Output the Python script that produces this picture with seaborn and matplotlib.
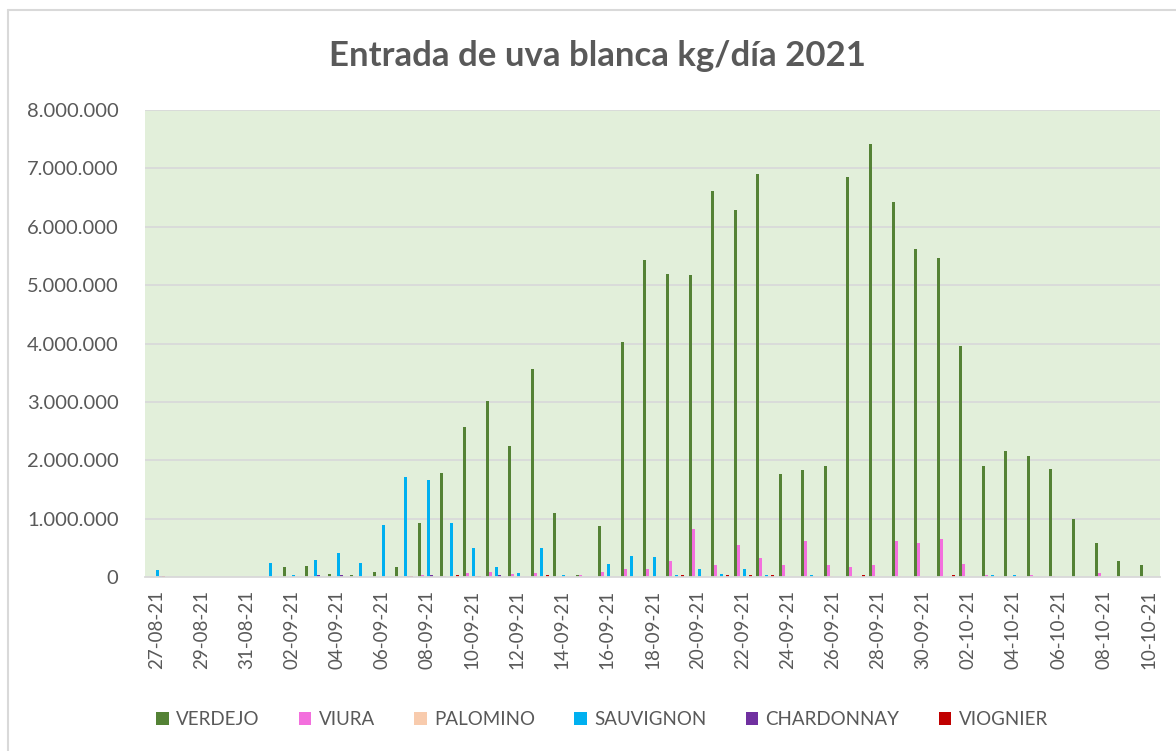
# =============================================================================
# 1. LIBRERÍAS
# =============================================================================
import pandas as pd
import numpy as np
import matplotlib
matplotlib.use("Agg")
import matplotlib.pyplot as plt
from matplotlib.lines import Line2D
from matplotlib.ticker import FuncFormatter, FixedLocator
import seaborn as sns

# =============================================================================
# 2. DATOS (kg/día)
# =============================================================================
fechas = pd.date_range("2021-08-27", "2021-10-10", freq="D").strftime("%d-%m-%y").tolist()

variedades = ["VERDEJO", "VIURA", "PALOMINO", "SAUVIGNON", "CHARDONNAY", "VIOGNIER"]

verdejo = [0, 0, 0, 0, 0, 0, 170000, 190000, 50000, 30000,
           80000, 170000, 930000, 1790000, 2570000, 3010000, 2250000, 3560000, 1100000, 30000,
           880000, 4030000, 5430000, 5190000, 5170000, 6620000, 6290000, 6910000, 1770000, 1830000,
           1900000, 6860000, 7410000, 6420000, 5620000, 5460000, 3960000, 1900000, 2160000, 2070000,
           1850000, 1000000, 580000, 270000, 200000]

viura = [0, 0, 0, 0, 0, 0, 0, 0, 0, 0,
         0, 0, 40000, 20000, 70000, 90000, 50000, 70000, 0, 30000,
         90000, 140000, 140000, 270000, 820000, 200000, 540000, 320000, 200000, 620000,
         200000, 170000, 200000, 620000, 580000, 650000, 230000, 40000, 0, 40000,
         25000, 0, 75000, 0, 0]

palomino = [0] * 30 + [20000, 20000, 20000, 20000] + [0] * 11

sauvignon = [120000, 0, 0, 0, 0, 240000, 30000, 290000, 410000, 240000,
             890000, 1720000, 1660000, 930000, 490000, 170000, 70000, 490000, 30000, 0,
             220000, 360000, 340000, 30000, 140000, 50000, 140000, 30000, 0, 30000,
             0, 0, 0, 0, 0, 0, 0, 30000, 30000, 0,
             0, 0, 0, 0, 0]

chardonnay = [25000, 0, 0, 0, 0, 0, 0, 30000, 30000, 0,
              0, 25000, 30000, 0, 25000, 30000] + [0] * 29

viognier = [25000, 0, 0, 0, 0, 0, 0, 0, 0, 0,
            0, 25000, 0, 30000, 25000, 0, 0, 30000, 0, 0,
            0, 0, 0, 30000, 0, 30000, 30000, 30000, 0, 0,
            0, 30000, 0, 0, 0, 30000, 0, 0, 0, 0,
            0, 0, 0, 0, 0]

colores = {
    "VERDEJO": "#548235",
    "VIURA": "#F36FDD",
    "PALOMINO": "#F8CBAD",
    "SAUVIGNON": "#00B0F0",
    "CHARDONNAY": "#7030A0",
    "VIOGNIER": "#C00000",
}

GRIS_TEXTO = "#595959"
GRIS_LINEA = "#D9D9D9"


# =============================================================================
# 3. PREPARACIÓN
# =============================================================================
def armar_tabla():
    """Pasa las series a formato largo para seaborn."""
    df = pd.DataFrame({
        "fecha": fechas,
        "VERDEJO": verdejo,
        "VIURA": viura,
        "PALOMINO": palomino,
        "SAUVIGNON": sauvignon,
        "CHARDONNAY": chardonnay,
        "VIOGNIER": viognier,
    })
    return df.melt(id_vars="fecha", var_name="variedad", value_name="kg")


# =============================================================================
# 4. GRÁFICO
# =============================================================================
def graficar(df_largo):
    sns.set_theme(style="white")
    plt.rcParams["font.family"] = ["Lato", "DejaVu Sans"]

    fig = plt.figure(figsize=(11.76, 7.51), dpi=100)
    ax = fig.add_axes([0.1233, 0.2317, 0.8631, 0.6218])

    sns.barplot(data=df_largo, x="fecha", y="kg", hue="variedad",
                order=fechas, hue_order=variedades, palette=colores,
                width=0.8, linewidth=0, saturation=1, errorbar=None, ax=ax)

    ax.set_facecolor("#E2EFDA")
    ax.set_ylim(0, 8000000)
    ax.set_xlim(-0.5, len(fechas) - 0.5)
    ax.set_yticks(np.arange(0, 8000001, 1000000))
    ax.yaxis.set_major_formatter(FuncFormatter(lambda v, p: f"{int(v):,}".replace(",", ".")))
    ax.grid(axis="y", color=GRIS_LINEA, linewidth=1.3)
    ax.set_axisbelow(True)
    for lado in ["top", "right", "left"]:
        ax.spines[lado].set_visible(False)
    ax.spines["bottom"].set_color(GRIS_LINEA)
    ax.spines["bottom"].set_linewidth(1.3)

    # etiquetas cada 2 días, marcas entre categorías
    pos = list(range(0, len(fechas), 2))
    ax.set_xticks(pos)
    ax.set_xticklabels([fechas[i] for i in pos], rotation=90)
    ax.xaxis.set_minor_locator(FixedLocator([p - 0.5 for p in pos]))
    ax.tick_params(axis="x", which="major", length=0, pad=9, labelsize=13.5, labelcolor=GRIS_TEXTO)
    ax.tick_params(axis="x", which="minor", length=6, width=1.2, color=GRIS_LINEA)
    ax.tick_params(axis="y", length=0, pad=19, labelsize=14.5, labelcolor=GRIS_TEXTO)
    ax.set_xlabel("")
    ax.set_ylabel("")

    handles, labels = ax.get_legend_handles_labels()
    ax.legend_.remove()
    fig.legend(handles, labels, loc="center", bbox_to_anchor=(0.512, 0.042), ncol=6,
               frameon=False, fontsize=13.5, labelcolor=GRIS_TEXTO,
               handlelength=0.65, handleheight=0.65, handletextpad=0.4, columnspacing=2.1)

    fig.text(0.508, 0.926, "Entrada de uva blanca kg/día 2021", ha="center", va="center",
             fontsize=25, fontweight="bold", color=GRIS_TEXTO)

    # borde del área del gráfico (estilo Excel)
    fig.add_artist(Line2D([8 / 1176, 8 / 1176], [0, 1 - 10 / 751], color=GRIS_LINEA, lw=1.5))
    fig.add_artist(Line2D([8 / 1176, 1], [1 - 10 / 751, 1 - 10 / 751], color=GRIS_LINEA, lw=1.5))

    fig.savefig("out.png", dpi=100, facecolor="white")
    plt.close(fig)


# =============================================================================
# 5. EJECUCIÓN
# =============================================================================
if __name__ == "__main__":
    graficar(armar_tabla())
